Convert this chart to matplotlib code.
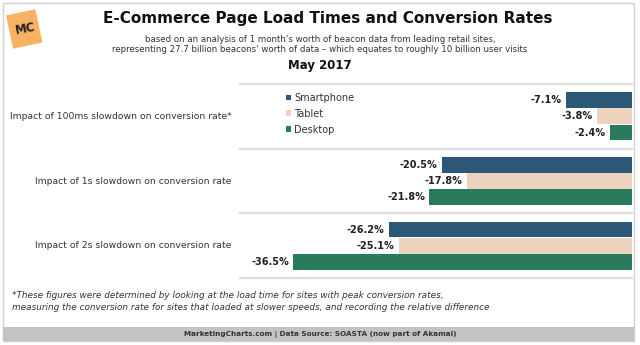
import matplotlib
matplotlib.use("Agg")
import matplotlib.pyplot as plt
from matplotlib.patches import Rectangle, Patch
import matplotlib.transforms as mtransforms

categories = ["Impact of 100ms slowdown on conversion rate*",
              "Impact of 1s slowdown on conversion rate",
              "Impact of 2s slowdown on conversion rate"]
series = ["Smartphone", "Tablet", "Desktop"]
smartphone = [-7.1, -20.5, -26.2]
tablet = [-3.8, -17.8, -25.1]
desktop = [-2.4, -21.8, -36.5]
colors = ["#2C5777", "#EBD3BE", "#2A7A5C"]

W, H = 640, 345
fig = plt.figure(figsize=(W / 100, H / 100), dpi=100)
fig.patch.set_facecolor("white")

def fx(px):
    return px / W

def fy(py):
    return 1 - py / H

# outer frame
fig.patches.append(Rectangle((fx(3), fy(341)), fx(631), 338 / H, transform=fig.transFigure,
                             fill=False, edgecolor="#D0D0D0", lw=1.0))
# footer band
fig.patches.append(Rectangle((fx(3), fy(341)), fx(631), 14 / H, transform=fig.transFigure,
                             facecolor="#C3C3C3", edgecolor="none"))
fig.text(fx(320), fy(334), "MarketingCharts.com | Data Source: SOASTA (now part of Akamai)",
         ha="center", va="center", fontsize=5.2, fontweight="bold", color="#333333")

# logo
logo = Rectangle((fx(9), fy(46)), 30 / W, 34 / H, transform=fig.transFigure,
                 facecolor="#F9B262", edgecolor="none")
rot = mtransforms.Affine2D().rotate_deg_around(24, H - 28, 12)
logo.set_transform(fig.transFigure + rot)
fig.patches.append(logo)
fig.text(fx(25), fy(29), "MC", ha="center", va="center", fontsize=8.5, fontweight="bold",
         color="#222222", rotation=10)

# titles
fig.text(fx(328), fy(19), "E-Commerce Page Load Times and Conversion Rates", ha="center",
         va="center", fontsize=11, fontweight="bold", color="#111111")
fig.text(fx(320), fy(40), "based on an analysis of 1 month's worth of beacon data from leading retail sites,",
         ha="center", va="center", fontsize=6.2, color="#333333")
fig.text(fx(320), fy(50), "representing 27.7 billion beacons' worth of data \u2013 which equates to roughly 10 billion user visits",
         ha="center", va="center", fontsize=6.2, color="#333333")
fig.text(fx(320), fy(66), "May 2017", ha="center", va="center", fontsize=8.5, fontweight="bold",
         color="#111111")

# footnote
fig.text(fx(12), fy(295), "*These figures were determined by looking at the load time for sites with peak conversion rates,",
         ha="left", va="center", fontsize=6.4, style="italic", color="#333333")
fig.text(fx(12), fy(307), "measuring the conversion rate for sites that loaded at slower speeds, and recording the relative difference",
         ha="left", va="center", fontsize=6.4, style="italic", color="#333333")

# main axes
ax = fig.add_axes([fx(240), fy(278), fx(632) - fx(240), (278 - 84) / H])
ax.set_xlim(-42.2, 0)
ax.set_ylim(2.5, -0.5)
ax.axis("off")

offsets = [-0.25, 0.0, 0.25]
allvals = [smartphone, tablet, desktop]
for s, (vals, col, off) in enumerate(zip(allvals, colors, offsets)):
    ys = [i + off for i in range(len(categories))]
    ax.barh(ys, vals, height=0.245, left=0, color=col, label=series[s])
    for y, v in zip(ys, vals):
        ax.annotate(f"{v:.1f}%", xy=(v, y), xytext=(-3, 0), textcoords="offset points",
                    ha="right", va="center", fontsize=7.0, fontweight="bold", color="#222222")

for yl in [-0.5, 0.5, 1.5, 2.5]:
    ax.axhline(yl, color="#DEDEDE", lw=1.6, clip_on=False)

for i, cat in enumerate(categories):
    ax.annotate(cat, xy=(0, i), xycoords=("axes fraction", "data"),
                xytext=(-6, 0), textcoords="offset points",
                ha="right", va="center", fontsize=6.7, color="#333333")

handles = [Patch(facecolor=c, edgecolor="none") for c in colors]
leg = ax.legend(handles, series, loc="upper left",
                bbox_to_anchor=((286 - 240) / (632 - 240), 1 - 9 / 194),
                frameon=False, fontsize=7.0, handlelength=0.55, handleheight=0.55,
                handletextpad=0.3, labelspacing=0.6, borderpad=0, borderaxespad=0)
for t in leg.get_texts():
    t.set_color("#333333")

fig.savefig("out.png", dpi=100)
